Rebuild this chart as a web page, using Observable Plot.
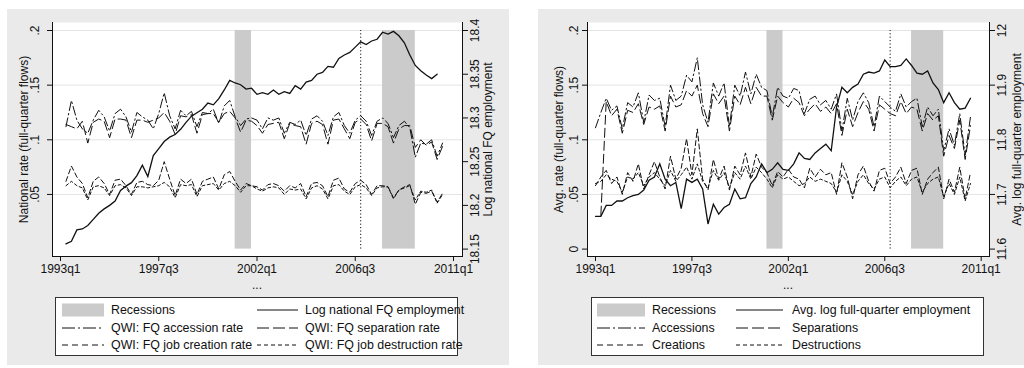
<!DOCTYPE html>
<html><head><meta charset="utf-8">
<script src="https://cdn.jsdelivr.net/npm/d3@7"></script>
<script src="https://cdn.jsdelivr.net/npm/@observablehq/plot@0.6"></script>
<style>
body{margin:0;background:#fff;font-family:"Liberation Sans",Arial,Helvetica,sans-serif;color:#111;}
#root{position:relative;width:1024px;height:368px;overflow:hidden;}
.panel{position:absolute;top:9px;height:356px;background:#eaeaea;}
.panel svg{position:absolute;left:0;top:0;}
.legend{position:absolute;background:#fff;border:1px solid #333;box-sizing:border-box;}
.lg-text{position:absolute;font-size:12.4px;line-height:16px;white-space:nowrap;color:#111;}
.xt{position:absolute;font-size:12px;transform:translateX(-50%);color:#111;}
</style></head><body><div id="root"></div>
<script>
// ---------------- data ----------------
const xTickQuarters = ["1993q1", "1997q3", "2002q1", "2006q3", "2011q1"];
const recessionStart = ["2001q1", "2007q4"];
const recessionEnd = ["2001q4", "2009q2"];
const markerQuarter = "2006q4";

// Left panel: national series
const natEmploymentStart = "1993q2";
const natEmployment = [18.156,18.159,18.172,18.173,18.177,18.184,18.191,18.196,18.200,18.205,
 18.217,18.222,18.226,18.234,18.246,18.233,18.257,18.265,18.273,18.278,
 18.281,18.287,18.295,18.302,18.306,18.310,18.317,18.315,18.322,18.332,
 18.343,18.340,18.338,18.333,18.334,18.327,18.329,18.327,18.332,18.327,
 18.330,18.328,18.337,18.333,18.341,18.343,18.350,18.352,18.359,18.358,
 18.368,18.372,18.375,18.381,18.387,18.384,18.388,18.390,18.398,18.396,
 18.399,18.394,18.386,18.372,18.360,18.354,18.349,18.345,18.350];
const natRatesStart = "1993q2";
const natAccession = [0.112,0.136,0.118,0.110,0.106,0.118,0.127,0.121,0.108,0.124,
 0.128,0.121,0.107,0.125,0.121,0.118,0.110,0.124,0.143,0.122,
 0.110,0.127,0.122,0.126,0.112,0.125,0.124,0.128,0.115,0.131,
 0.136,0.121,0.113,0.119,0.120,0.118,0.110,0.120,0.118,0.120,
 0.106,0.116,0.114,0.118,0.104,0.119,0.122,0.117,0.104,0.121,
 0.125,0.113,0.106,0.118,0.122,0.117,0.104,0.117,0.120,0.115,
 0.102,0.113,0.117,0.111,0.084,0.097,0.096,0.100,0.085,0.097];
const natSeparation = [0.114,0.112,0.110,0.117,0.097,0.116,0.119,0.117,0.102,0.119,
 0.119,0.118,0.102,0.118,0.118,0.116,0.118,0.120,0.125,0.117,
 0.105,0.122,0.121,0.123,0.106,0.123,0.124,0.124,0.116,0.124,
 0.126,0.120,0.107,0.118,0.117,0.113,0.106,0.114,0.115,0.116,
 0.101,0.115,0.113,0.112,0.096,0.115,0.117,0.114,0.096,0.118,
 0.119,0.110,0.101,0.116,0.119,0.114,0.099,0.115,0.115,0.112,
 0.097,0.110,0.113,0.113,0.093,0.100,0.095,0.098,0.082,0.094];
const natCreation = [0.062,0.076,0.066,0.060,0.047,0.062,0.066,0.060,0.050,0.063,
 0.064,0.058,0.050,0.061,0.062,0.059,0.058,0.063,0.080,0.064,
 0.049,0.064,0.060,0.064,0.050,0.062,0.064,0.066,0.055,0.068,
 0.071,0.062,0.054,0.060,0.058,0.057,0.054,0.059,0.060,0.058,
 0.053,0.058,0.056,0.060,0.048,0.060,0.061,0.058,0.048,0.063,
 0.065,0.055,0.052,0.060,0.063,0.059,0.050,0.058,0.058,0.057,
 0.047,0.054,0.057,0.059,0.041,0.052,0.051,0.053,0.043,0.051];
const natDestruction = [0.058,0.062,0.058,0.056,0.045,0.057,0.058,0.056,0.049,0.058,
 0.059,0.056,0.049,0.057,0.057,0.056,0.057,0.058,0.061,0.057,
 0.047,0.059,0.058,0.059,0.048,0.058,0.059,0.060,0.054,0.060,
 0.062,0.058,0.052,0.058,0.058,0.055,0.053,0.056,0.057,0.056,
 0.050,0.055,0.054,0.055,0.046,0.056,0.058,0.055,0.046,0.058,
 0.059,0.053,0.050,0.057,0.059,0.056,0.049,0.056,0.057,0.057,
 0.046,0.054,0.056,0.058,0.045,0.053,0.052,0.054,0.042,0.050];
const natRateTicks = [0.05, 0.1, 0.15, 0.2];
const natEmpTicks = [18.15, 18.2, 18.25, 18.3, 18.35, 18.4];

// Right panel: average series
const avgEmploymentStart = "1993q1";
const avgEmployment = [11.660,11.660,11.680,11.680,11.688,11.688,11.694,11.698,11.700,11.708,
 11.726,11.732,11.756,11.728,11.716,11.722,11.674,11.728,11.722,11.728,
 11.710,11.646,11.682,11.664,11.676,11.682,11.710,11.692,11.694,11.720,
 11.732,11.756,11.740,11.746,11.758,11.746,11.744,11.756,11.776,11.766,
 11.764,11.776,11.784,11.792,11.780,11.860,11.896,11.886,11.896,11.902,
 11.920,11.924,11.922,11.926,11.946,11.934,11.934,11.936,11.948,11.936,
 11.922,11.920,11.926,11.904,11.892,11.868,11.886,11.868,11.856,11.858,
 11.876];
const avgRatesStart = "1993q1";
const avgAccession = [0.111,0.125,0.138,0.127,0.131,0.110,0.134,0.130,0.143,0.116,
 0.141,0.136,0.138,0.112,0.150,0.136,0.140,0.159,0.153,0.175,
 0.132,0.116,0.152,0.140,0.152,0.112,0.150,0.140,0.162,0.142,
 0.160,0.148,0.145,0.121,0.148,0.140,0.138,0.147,0.145,0.124,
 0.137,0.140,0.132,0.136,0.128,0.142,0.108,0.138,0.118,0.135,
 0.143,0.134,0.112,0.140,0.135,0.130,0.126,0.142,0.130,0.135,
 0.138,0.112,0.130,0.122,0.128,0.090,0.110,0.095,0.124,0.086,
 0.121];
const avgSeparationStart = "1993q2";
const avgSeparation = [0.031,0.135,0.122,0.128,0.106,0.127,0.125,0.133,0.114,0.130,
 0.128,0.131,0.108,0.140,0.130,0.132,0.145,0.140,0.150,0.124,
 0.112,0.142,0.133,0.140,0.108,0.140,0.132,0.148,0.133,0.148,
 0.140,0.140,0.118,0.140,0.134,0.130,0.138,0.134,0.122,0.128,
 0.133,0.126,0.130,0.124,0.133,0.104,0.128,0.112,0.125,0.135,
 0.128,0.108,0.132,0.128,0.124,0.122,0.135,0.124,0.130,0.128,
 0.108,0.124,0.118,0.122,0.085,0.104,0.092,0.118,0.082,0.113];
const avgCreation = [0.058,0.066,0.072,0.060,0.066,0.050,0.070,0.062,0.078,0.055,
 0.068,0.080,0.066,0.055,0.085,0.064,0.074,0.101,0.068,0.110,
 0.064,0.054,0.082,0.064,0.076,0.054,0.076,0.068,0.088,0.066,
 0.087,0.075,0.070,0.058,0.071,0.066,0.073,0.066,0.064,0.056,
 0.074,0.066,0.073,0.068,0.070,0.050,0.079,0.066,0.046,0.068,
 0.076,0.062,0.053,0.072,0.074,0.060,0.066,0.075,0.060,0.072,
 0.074,0.050,0.064,0.070,0.075,0.046,0.064,0.052,0.075,0.046,
 0.070];
const avgDestruction = [0.060,0.062,0.068,0.064,0.062,0.052,0.066,0.064,0.070,0.058,
 0.066,0.070,0.064,0.058,0.072,0.062,0.068,0.075,0.064,0.078,
 0.062,0.056,0.072,0.063,0.070,0.056,0.070,0.064,0.076,0.064,
 0.075,0.070,0.064,0.056,0.068,0.064,0.066,0.062,0.058,0.060,
 0.066,0.062,0.064,0.062,0.060,0.052,0.068,0.062,0.050,0.062,
 0.068,0.060,0.055,0.064,0.066,0.056,0.062,0.066,0.058,0.064,
 0.066,0.052,0.060,0.064,0.066,0.048,0.060,0.050,0.066,0.044,
 0.060];
const avgRateTicks = [0, 0.05, 0.1, 0.15, 0.2];
const avgEmpTicks = [11.6, 11.7, 11.8, 11.9, 12];

const natLegendLabels = ["Recessions", "Log national FQ employment", "QWI: FQ accession rate",
  "QWI: FQ separation rate", "QWI: FQ job creation rate", "QWI: FQ job destruction rate"];
const avgLegendLabels = ["Recessions", "Avg. log full-quarter employment", "Accessions",
  "Separations", "Creations", "Destructions"];

// ---------------- helpers ----------------
const q2x = s => { const [y, q] = s.split("q").map(Number); return y + (q - 1) / 4; };
const series = (start, vals, f = v => v) => { const x0 = q2x(start); return vals.map((v, i) => ({x: x0 + i / 4, y: f(v)})); };
const rateFmt = d => d === 0 ? "0" : String(+d.toFixed(2)).replace(/^0/, "");
const INK = "#111";
const STYLES = {
  emp: {dash: null, w: 1.3},
  acc: {dash: "9,3,1.5,3", w: 1},
  sep: {dash: "9,4", w: 1},
  cre: {dash: "5,3", w: 1},
  des: {dash: "3,2.5", w: 1}
};
const LEG_DASH = {acc: "13,3,2,3", sep: "12,4", cre: "6,4", des: "4,3"};

const root = document.getElementById("root");

function drawPanel(cfg) {
  const panel = document.createElement("div");
  panel.className = "panel";
  panel.style.left = cfg.left + "px";
  panel.style.width = cfg.width + "px";
  root.appendChild(panel);

  const [eLo, eHi] = [cfg.empTicks[0], cfg.empTicks[cfg.empTicks.length - 1]];
  const tr = e => (e - eLo) / (eHi - eLo) * 0.2;
  const recessions = recessionStart.map((s, i) => ({start: q2x(s), end: q2x(recessionEnd[i])}));
  const xTicks = xTickQuarters.map(q2x);
  const xLab = new Map(xTicks.map((t, i) => [t, xTickQuarters[i]]));
  const lineMark = (data, k) => Plot.line(data, {x: "x", y: "y", stroke: INK, strokeWidth: STYLES[k].w,
    strokeDasharray: STYLES[k].dash, strokeLinejoin: "miter", strokeMiterlimit: 3});

  const chart = Plot.plot({
    width: cfg.width, height: 290,
    marginLeft: cfg.frameL, marginRight: cfg.width - cfg.frameR, marginTop: 13, marginBottom: 290 - 247,
    x: {domain: [1993, 2011], range: cfg.xRange},
    y: {domain: [0, 0.2], range: [239.6, 21]},
    style: {fontFamily: '"Liberation Sans", Arial, sans-serif', fontSize: "12px", color: INK, background: "transparent", overflow: "visible"},
    marks: [
      Plot.frame({fill: "white", stroke: "none"}),
      Plot.gridY(cfg.rateTicks.filter(t => t > 0), {stroke: "#e4e4e4", strokeOpacity: 1, strokeWidth: 1}),
      Plot.rect(recessions, {x1: "start", x2: "end", y1: 0, y2: 0.2, fill: "#cbcbcb"}),
      Plot.ruleX([q2x(markerQuarter)], {y1: 0, y2: 0.2, stroke: INK, strokeWidth: 1, strokeDasharray: "1.2,2.2"}),
      lineMark(cfg.emp, "emp"),
      lineMark(cfg.acc, "acc"),
      lineMark(cfg.sep, "sep"),
      lineMark(cfg.cre, "cre"),
      lineMark(cfg.des, "des"),
      Plot.frame({anchor: "left", stroke: INK}),
      Plot.frame({anchor: "bottom", stroke: INK}),
      Plot.frame({anchor: "right", stroke: INK}),
      Plot.axisY({anchor: "left", ticks: cfg.rateTicks, tickSize: 5, tickFormat: () => "", label: null, stroke: INK}),
      Plot.text(cfg.rateTicks, {y: d => d, frameAnchor: "left", dx: cfg.leftLabDx, rotate: -90, text: rateFmt,
        textAnchor: "middle", lineAnchor: "middle", fontSize: 12, fill: INK}),
      Plot.axisY({anchor: "right", ticks: cfg.empTicks.map(tr), tickSize: 5, tickFormat: () => "", label: null, stroke: INK}),
      Plot.text(cfg.empTicks, {y: tr, frameAnchor: "right", dx: cfg.rightLabDx, rotate: -90, text: d => String(d),
        textAnchor: "middle", lineAnchor: "middle", fontSize: 12, fill: INK}),
      Plot.axisX({ticks: xTicks, tickFormat: d => xLab.get(d), tickSize: 5, tickPadding: 3, label: null, fontSize: 12, stroke: INK, fill: INK}),
      Plot.text([cfg.leftTitle], {frameAnchor: "left", dx: cfg.leftTitleDx, rotate: -90, text: d => d,
        textAnchor: "middle", lineAnchor: "middle", fontSize: 12, fill: INK}),
      Plot.text([cfg.rightTitle], {frameAnchor: "right", dx: cfg.rightTitleDx, rotate: -90, text: d => d,
        textAnchor: "middle", lineAnchor: "middle", fontSize: 12, fill: INK})
    ]
  });
  panel.appendChild(chart);

  const dots = document.createElement("div");
  dots.className = "xt";
  dots.textContent = "...";
  dots.style.left = ((cfg.frameL + cfg.frameR) / 2) + "px";
  dots.style.top = (278 - 9) + "px";
  panel.appendChild(dots);

  // legend
  const lg = document.createElement("div");
  lg.className = "legend";
  Object.assign(lg.style, {left: cfg.legend.left + "px", top: "288px", width: cfg.legend.width + "px", height: "59px"});
  panel.appendChild(lg);
  const keys = ["rec", "emp", "acc", "sep", "cre", "des"];
  const rowsY = [13, 30.5, 48];
  keys.forEach((k, i) => {
    const col = i % 2, row = Math.floor(i / 2);
    const c = cfg.legend.cols[col];
    const sw = document.createElementNS("http://www.w3.org/2000/svg", "svg");
    const w = c.sw[1] - c.sw[0];
    sw.setAttribute("width", w);
    sw.setAttribute("height", 16);
    sw.style.position = "absolute";
    sw.style.left = c.sw[0] + "px";
    sw.style.top = (rowsY[row] - 8 - 1) + "px";
    if (k === "rec") {
      sw.innerHTML = `<rect x="0" y="1.5" width="${w}" height="13" fill="#cbcbcb"/>`;
    } else {
      const dash = k === "emp" ? "" : `stroke-dasharray="${LEG_DASH[k]}"`;
      sw.innerHTML = `<line x1="0" x2="${w}" y1="8" y2="8" stroke="${INK}" stroke-width="1" ${dash}/>`;
    }
    lg.appendChild(sw);
    const t = document.createElement("div");
    t.className = "lg-text";
    t.textContent = cfg.legend.labels[i];
    t.style.left = c.tx + "px";
    t.style.top = (rowsY[row] - 8 - 1) + "px";
    lg.appendChild(t);
  });
}

drawPanel({
  left: 7, width: 502, frameL: 45, frameR: 455, xRange: [53, 446],
  rateTicks: natRateTicks, empTicks: natEmpTicks,
  emp: series(natEmploymentStart, natEmployment, v => (v - natEmpTicks[0]) / (natEmpTicks[5] - natEmpTicks[0]) * 0.2),
  acc: series(natRatesStart, natAccession), sep: series(natRatesStart, natSeparation),
  cre: series(natRatesStart, natCreation), des: series(natRatesStart, natDestruction),
  leftLabDx: -17, rightLabDx: 13, leftTitleDx: -28, rightTitleDx: 26,
  leftTitle: "National rate (full-quarter flows)", rightTitle: "Log national FQ employment",
  legend: {left: 48, width: 403, labels: natLegendLabels,
    cols: [{sw: [6, 48], tx: 55}, {sw: [201, 242], tx: 249}]}
});

drawPanel({
  left: 538, width: 486, frameL: 49, frameR: 451, xRange: [57, 442.7],
  rateTicks: avgRateTicks, empTicks: avgEmpTicks,
  emp: series(avgEmploymentStart, avgEmployment, v => (v - avgEmpTicks[0]) / (avgEmpTicks[4] - avgEmpTicks[0]) * 0.2),
  acc: series(avgRatesStart, avgAccession), sep: series(avgSeparationStart, avgSeparation),
  cre: series(avgRatesStart, avgCreation), des: series(avgRatesStart, avgDestruction),
  leftLabDx: -13, rightLabDx: 13, leftTitleDx: -28, rightTitleDx: 28,
  leftTitle: "Avg. rate (full-quarter flows)", rightTitle: "Avg. log full-quarter employment",
  legend: {left: 53, width: 393, labels: avgLegendLabels,
    cols: [{sw: [5, 53], tx: 60}, {sw: [144, 191], tx: 200}]}
});
</script></body></html>
